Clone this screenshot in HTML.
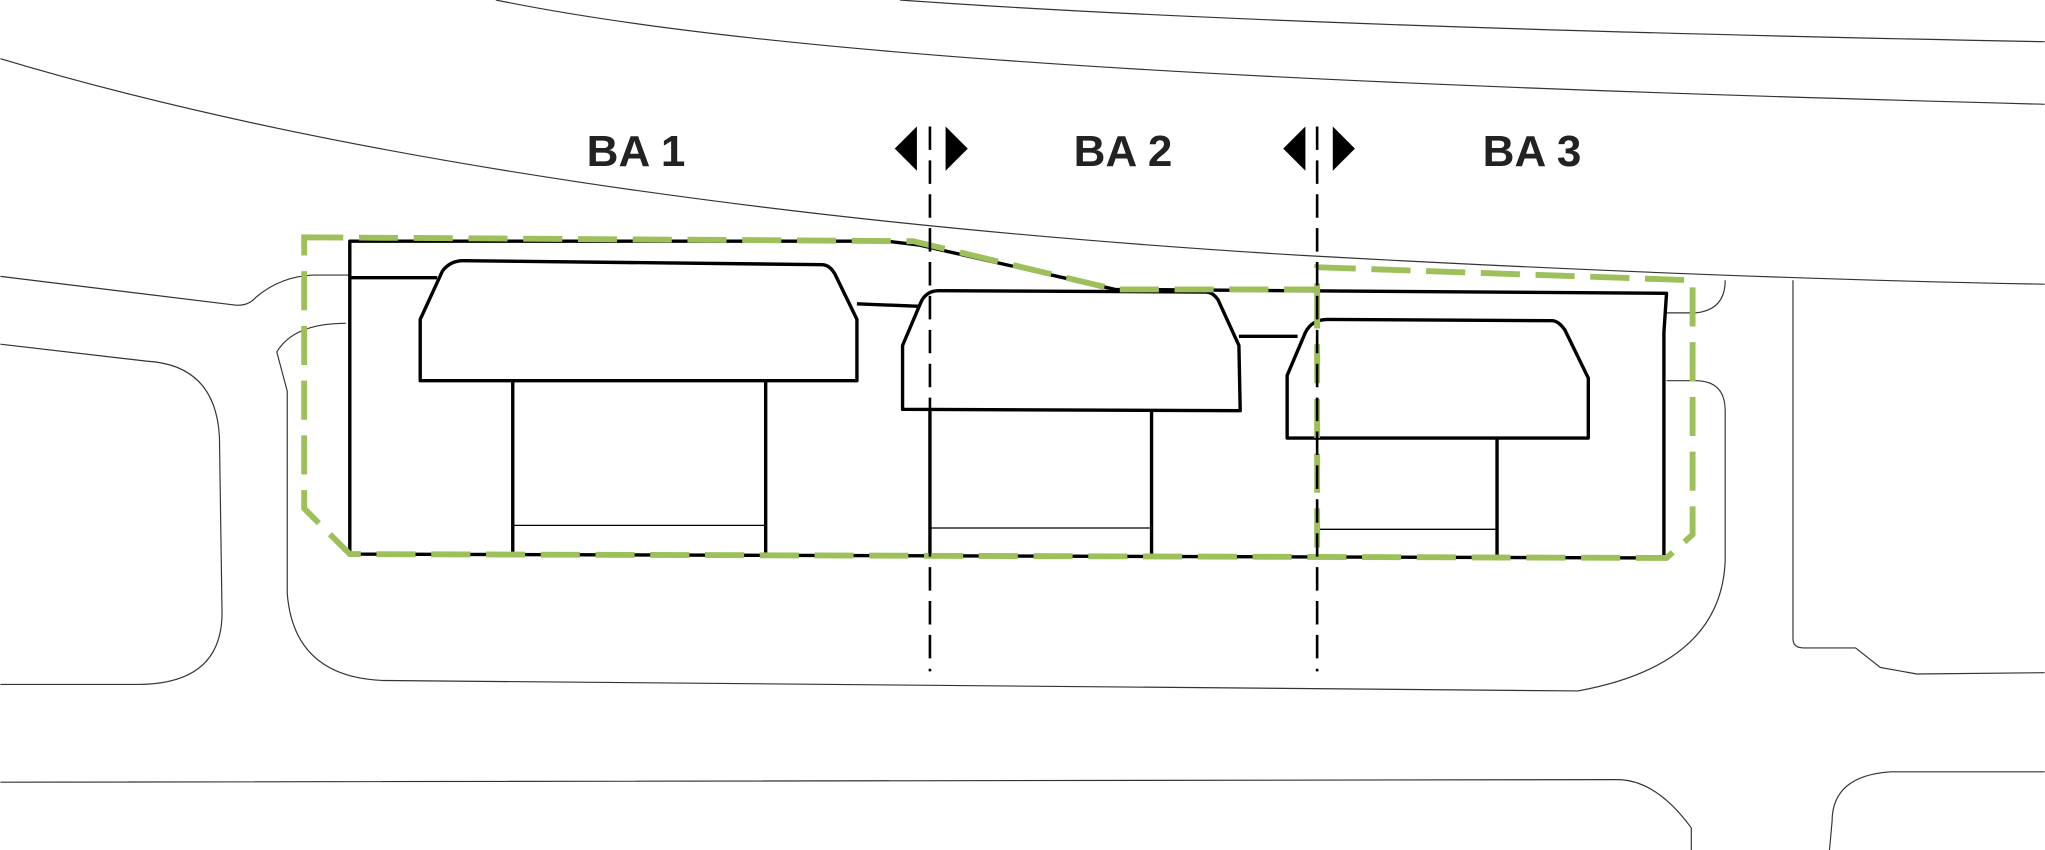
<!DOCTYPE html>
<html><head><style>html,body{margin:0;padding:0;background:#fff}svg{display:block}
.wrap{position:relative;width:2045px;height:850px}
.lbl{position:absolute;top:145px;width:80px;height:20px;margin-left:-40px;text-align:center;font-family:"Liberation Sans",sans-serif;font-weight:bold;font-size:16px;line-height:20px;color:#222;transform:scale(2.75);transform-origin:50% 50%}</style></head>
<body><div class="wrap">
<svg width="2045" height="850" viewBox="0 0 1568 652" xmlns="http://www.w3.org/2000/svg">
<g fill="none" stroke="#333" stroke-width="0.9">
<path d="M380,0 C600,45 1000,65 1568,80"/>
<path d="M690,0 C900,15 1200,25 1568,32"/>
<path d="M0,45 C250,120 600,172 1000,196 C1200,207 1400,215 1568,218"/>
<path d="M0,212 L180,234 Q190,235 196,228 Q215,212 240,211 L268,211"/>
<path d="M0,264 L112,277 Q165,280 168,335 L170,470 Q170,525 105,525 L0,525"/>
<path d="M265,248 Q225,248 212,270 L220,300 L220,455 Q225,520 295,522 L1210,530 Q1320,510 1323,430 L1323,315 Q1323,292 1300,292 L1278,292"/>
<path d="M1278,240 L1300,240 Q1323,238 1323,215"/>
<path d="M1375,215 L1375,490 Q1375,497 1383,497 L1423,497 L1442,512 L1470,517 L1568,516"/>
<path d="M0,600 L1240,598 Q1270,598 1297,635 L1297,652"/>
<path d="M1568,592 L1450,592 Q1405,595 1405,630 L1403,652"/>
</g>
<g fill="none" stroke="#000" stroke-width="2.6" stroke-linejoin="round">
<path d="M268,213 L268,425 L1276,428 L1276,255 L1278,225 L855,222 L705,188 L680,185 L268,185 L268,213 L335,213"/>
<path d="M322,245 L339,208 Q345,200 355,200 L630,203 Q636,203 640,210 L657,245 L657,292 L322,292 Z"/>
<path d="M393,292 L393,425 M587,292 L587,425"/>
<path d="M657,233 L705,235"/>
<path d="M692,265 L706,232 Q710,223 720,223 L925,224 Q930,224 934,230 L950,265 L951,315 L692,314 Z"/>
<path d="M713,314 L713,425 M883,316 L883,425"/>
<path d="M950,258 L995,258"/>
<path d="M987,288 L1001,255 Q1006,245 1018,245 L1190,246 Q1195,246 1200,253 L1218,290 L1218,336 L987,336 Z"/>
<path d="M1148,336 L1148,428"/>
</g>
<g stroke="#000" stroke-width="1"><path d="M393,403 L587,403 M713,405 L883,405 M1010,406 L1148,406"/></g>
<g fill="none" stroke="#9dc05a" stroke-width="4.5" stroke-dasharray="30,12">
<path d="M233,182 L700,185 L855,222 L1010,222 L1010,205 L1298,215 L1298,410 L1278,428 L268,425 L233,390 Z"/>
<path d="M1010,222 L1010,428"/>
</g>
<g stroke="#000" stroke-width="2" stroke-dasharray="18,8"><path d="M713,97 L713,515 M1010,97 L1010,515"/></g>
<g fill="#000">
<polygon points="686,114 703,97 703,131"/><polygon points="725,97 742,114 725,131"/>
<polygon points="984,114 1001,97 1001,131"/><polygon points="1022,97 1039,114 1022,131"/>
</g>
</svg>
<div class="lbl" style="left:636px">BA 1</div>
<div class="lbl" style="left:1123px">BA 2</div>
<div class="lbl" style="left:1532px">BA 3</div>
</div>
</body></html>
